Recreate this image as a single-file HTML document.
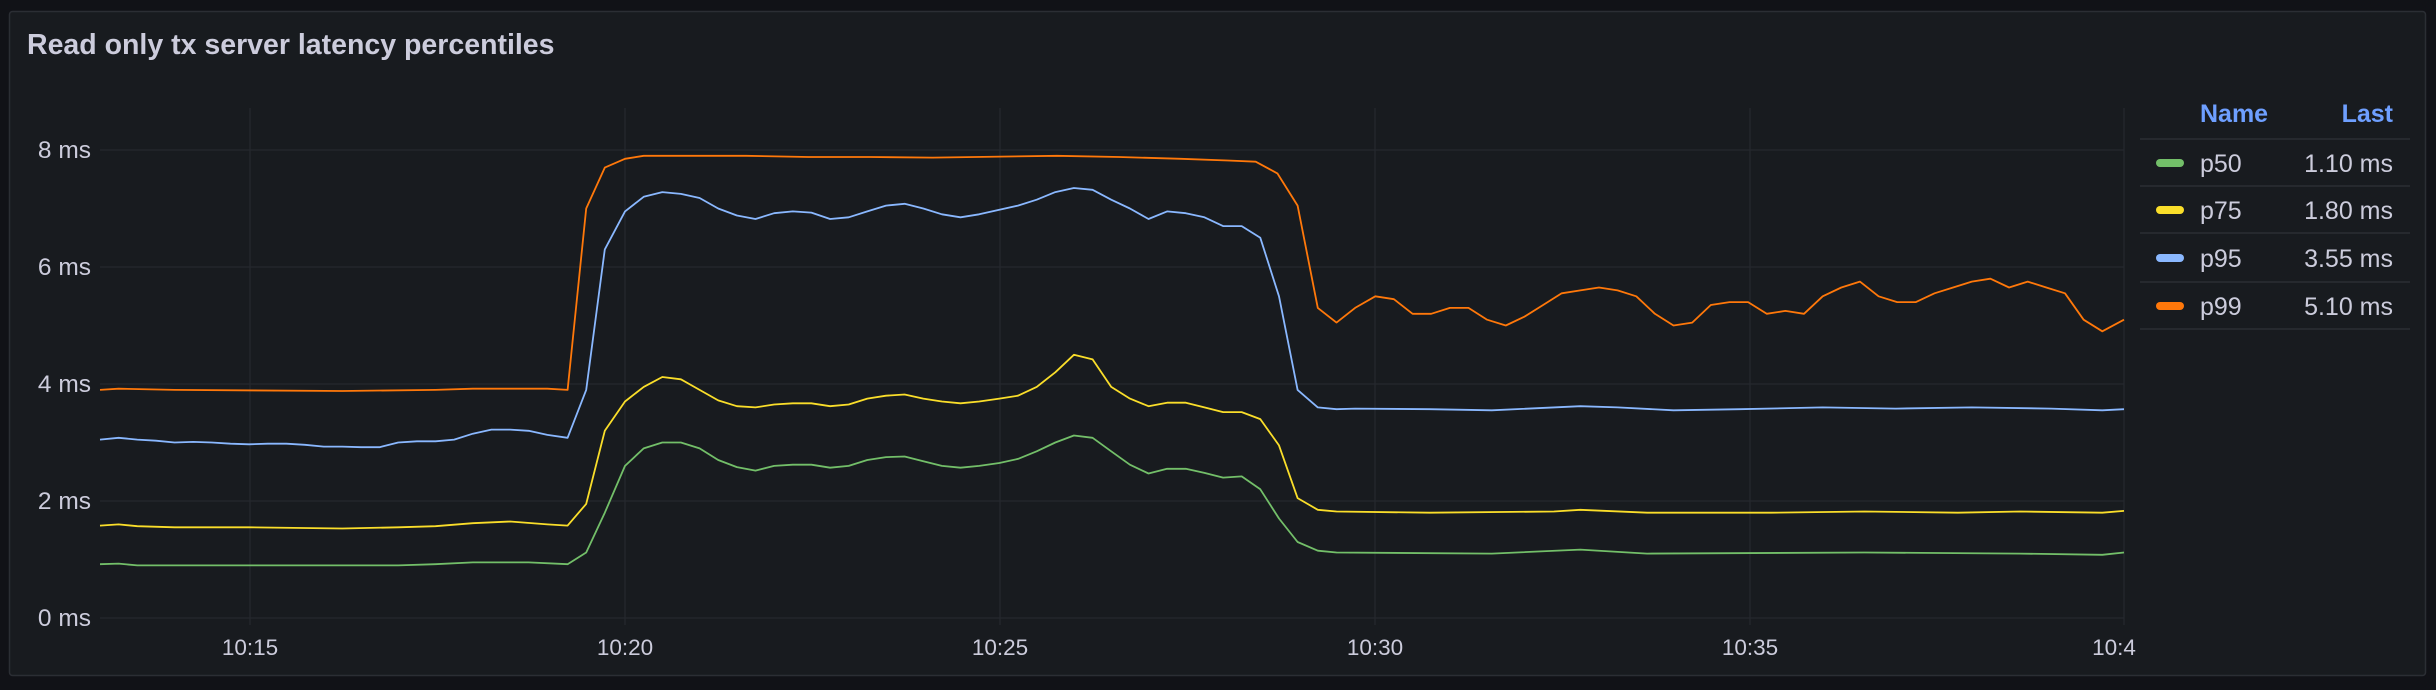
<!DOCTYPE html>
<html><head><meta charset="utf-8"><style>
html,body{margin:0;padding:0;background:#111217;width:2436px;height:690px;overflow:hidden}
</style></head><body>
<svg width="2436" height="690" xmlns="http://www.w3.org/2000/svg" font-family="Liberation Sans, sans-serif">
<rect x="0" y="0" width="2436" height="690" fill="#111217"/>
<rect x="9.5" y="11.5" width="2416" height="664" rx="3" fill="#181b1f" stroke="#2b2e34" stroke-width="1.5"/>
<text x="27" y="54" fill="#ccccdc" font-size="28.5" font-weight="bold">Read only tx server latency percentiles</text>
<g stroke="#25282e" stroke-width="1.3">
<line x1="100" y1="150" x2="2124" y2="150"/>
<line x1="100" y1="267" x2="2124" y2="267"/>
<line x1="100" y1="384" x2="2124" y2="384"/>
<line x1="100" y1="501" x2="2124" y2="501"/>
<line x1="100" y1="618" x2="2124" y2="618"/>
<line x1="250" y1="108" x2="250" y2="625"/>
<line x1="625" y1="108" x2="625" y2="625"/>
<line x1="1000" y1="108" x2="1000" y2="625"/>
<line x1="1375" y1="108" x2="1375" y2="625"/>
<line x1="1750" y1="108" x2="1750" y2="625"/>
<line x1="2124" y1="108" x2="2124" y2="625"/>
</g>
<g fill="#ccccdc" font-size="24.5" text-anchor="end">
<text x="91" y="158">8 ms</text>
<text x="91" y="275">6 ms</text>
<text x="91" y="392">4 ms</text>
<text x="91" y="509">2 ms</text>
<text x="91" y="626">0 ms</text>
</g>
<g fill="#ccccdc" font-size="22.5" text-anchor="middle">
<text x="250" y="655">10:15</text>
<text x="625" y="655">10:20</text>
<text x="1000" y="655">10:25</text>
<text x="1375" y="655">10:30</text>
<text x="1750" y="655">10:35</text>
<text x="2114" y="655">10:4</text>
</g>
<g id="series" fill="none" stroke-width="1.8" stroke-linejoin="round"></g>
<g font-size="25">
<text x="2200" y="122" fill="#6e9fff" font-weight="bold">Name</text>
<text x="2393" y="122" fill="#6e9fff" font-weight="bold" text-anchor="end">Last</text>
<g stroke="#2b2e34" stroke-width="1.5">
<line x1="2140" y1="139" x2="2410" y2="139"/>
<line x1="2140" y1="186" x2="2410" y2="186"/>
<line x1="2140" y1="233" x2="2410" y2="233"/>
<line x1="2140" y1="282" x2="2410" y2="282"/>
<line x1="2140" y1="329" x2="2410" y2="329"/>
</g>
<rect x="2156" y="159" width="28" height="8" rx="4" fill="#73bf69"/>
<rect x="2156" y="206" width="28" height="8" rx="4" fill="#fade2a"/>
<rect x="2156" y="254" width="28" height="8" rx="4" fill="#8ab8ff"/>
<rect x="2156" y="302" width="28" height="8" rx="4" fill="#ff780a"/>
<g fill="#ccccdc">
<text x="2200" y="172">p50</text><text x="2393" y="172" text-anchor="end">1.10 ms</text>
<text x="2200" y="219">p75</text><text x="2393" y="219" text-anchor="end">1.80 ms</text>
<text x="2200" y="267">p95</text><text x="2393" y="267" text-anchor="end">3.55 ms</text>
<text x="2200" y="315">p99</text><text x="2393" y="315" text-anchor="end">5.10 ms</text>
</g>
</g>
</svg>
<script>
var S={
"#ff780a":[[64,3.9],[76,3.92],[112,3.9],[220,3.88],[280,3.9],[304,3.92],[352,3.92],[365,3.9],[377,7.0],[389,7.7],[402,7.85],[414,7.9],[480,7.9],[520,7.88],[560,7.88],[600,7.87],[680,7.9],[720,7.88],[760,7.85],[790,7.82],[808,7.8],[822,7.6],[835,7.05],[848,5.3],[860,5.05],[872,5.3],[885,5.5],[897,5.45],[909,5.2],[921,5.2],[933,5.3],[945,5.3],[957,5.1],[969,5.0],[981,5.15],[993,5.35],[1005,5.55],[1017,5.6],[1029,5.65],[1041,5.6],[1053,5.5],[1065,5.2],[1077,5.0],[1089,5.05],[1101,5.35],[1113,5.4],[1125,5.4],[1137,5.2],[1149,5.25],[1161,5.2],[1173,5.5],[1185,5.65],[1197,5.75],[1209,5.5],[1221,5.4],[1233,5.4],[1245,5.55],[1257,5.65],[1269,5.75],[1281,5.8],[1293,5.65],[1305,5.75],[1317,5.65],[1329,5.55],[1341,5.1],[1353,4.9],[1367,5.1]],
"#8ab8ff":[[64,3.05],[76,3.08],[88,3.05],[100,3.03],[112,3.0],[124,3.01],[136,3.0],[148,2.98],[160,2.97],[172,2.98],[184,2.98],[196,2.96],[208,2.93],[220,2.93],[232,2.92],[244,2.92],[256,3.0],[268,3.02],[280,3.02],[292,3.05],[304,3.15],[316,3.22],[328,3.22],[340,3.2],[352,3.13],[365,3.08],[377,3.9],[389,6.3],[402,6.95],[414,7.2],[426,7.28],[438,7.25],[450,7.18],[462,7.0],[474,6.88],[486,6.82],[498,6.92],[510,6.95],[522,6.93],[534,6.82],[546,6.85],[558,6.95],[570,7.05],[582,7.08],[594,7.0],[606,6.9],[618,6.85],[630,6.9],[643,6.98],[655,7.05],[667,7.15],[679,7.28],[691,7.35],[703,7.32],[715,7.15],[727,7.0],[739,6.82],[751,6.95],[763,6.92],[775,6.85],[787,6.7],[799,6.7],[811,6.5],[823,5.5],[835,3.9],[848,3.6],[860,3.57],[872,3.58],[920,3.57],[960,3.55],[1017,3.62],[1041,3.6],[1077,3.55],[1120,3.57],[1173,3.6],[1220,3.58],[1269,3.6],[1320,3.58],[1353,3.55],[1367,3.57]],
"#fade2a":[[64,1.58],[76,1.6],[88,1.57],[112,1.55],[160,1.55],[220,1.53],[256,1.55],[280,1.57],[304,1.62],[328,1.65],[352,1.6],[365,1.58],[377,1.95],[389,3.2],[402,3.7],[414,3.95],[426,4.12],[438,4.08],[450,3.9],[462,3.72],[474,3.62],[486,3.6],[498,3.65],[510,3.67],[522,3.67],[534,3.62],[546,3.65],[558,3.75],[570,3.8],[582,3.82],[594,3.75],[606,3.7],[618,3.67],[630,3.7],[643,3.75],[655,3.8],[667,3.95],[679,4.2],[691,4.5],[703,4.42],[715,3.95],[727,3.75],[739,3.62],[751,3.68],[763,3.68],[775,3.6],[787,3.52],[799,3.52],[811,3.4],[823,2.95],[835,2.05],[848,1.85],[860,1.82],[920,1.8],[1000,1.82],[1017,1.85],[1060,1.8],[1140,1.8],[1200,1.82],[1260,1.8],[1300,1.82],[1353,1.8],[1367,1.83]],
"#73bf69":[[64,0.92],[76,0.93],[88,0.9],[256,0.9],[280,0.92],[304,0.95],[340,0.95],[365,0.92],[377,1.12],[389,1.8],[402,2.6],[414,2.9],[426,3.0],[438,3.0],[450,2.9],[462,2.7],[474,2.58],[486,2.52],[498,2.6],[510,2.62],[522,2.62],[534,2.57],[546,2.6],[558,2.7],[570,2.75],[582,2.76],[594,2.68],[606,2.6],[618,2.57],[630,2.6],[643,2.65],[655,2.72],[667,2.85],[679,3.0],[691,3.12],[703,3.08],[715,2.85],[727,2.62],[739,2.47],[751,2.55],[763,2.55],[775,2.48],[787,2.4],[799,2.42],[811,2.2],[823,1.7],[835,1.3],[848,1.15],[860,1.12],[960,1.1],[1017,1.17],[1060,1.1],[1200,1.12],[1300,1.1],[1353,1.08],[1367,1.12]]
};
var g=document.getElementById("series"),ns="http://www.w3.org/2000/svg";
["#73bf69","#fade2a","#8ab8ff","#ff780a"].forEach(function(c){
var d=S[c].map(function(p,i){var x=Math.min(2124,100+(p[0]-64)*(2024/1303));return (i?"L":"M")+x.toFixed(1)+","+(618-p[1]*58.5).toFixed(1);}).join("");
var e=document.createElementNS(ns,"path");e.setAttribute("d",d);e.setAttribute("stroke",c);g.appendChild(e);});
</script>
</body></html>
